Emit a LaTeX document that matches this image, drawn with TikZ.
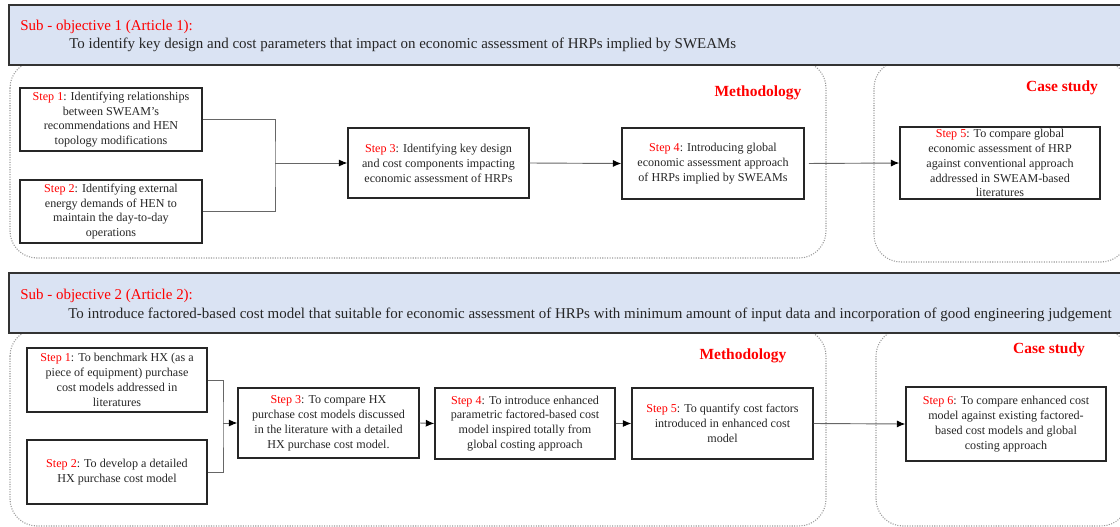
\documentclass[tikz,border=0pt]{standalone}
\usepackage{fontspec}
\setmainfont{Liberation Serif}
\usepackage{xcolor}
\usetikzlibrary{arrows.meta}
\definecolor{headblue}{HTML}{DAE3F3}

\begin{document}
\begin{tikzpicture}[x=0.025cm,y=-0.025cm,
  stepbox/.style={draw=black!85,line width=1pt,align=center,inner sep=1pt,
    font=\fontsize{8.6}{10.6}\selectfont,text=black!85},
  panel/.style={draw=gray!80,densely dotted,line width=.75pt,rounded corners=.675cm},
  headbar/.style={draw=black!80,line width=1pt,fill=headblue},
  headtext/.style={anchor=west,inner sep=0,font=\fontsize{10.65}{12}\selectfont},
  title/.style={font=\fontsize{11}{13}\selectfont\bfseries,text=red},
  link/.style={draw=black!60,line width=.65pt},
  arrow/.style={link,-{Latex[length=6pt,width=5pt,black]}}]
\def\stp#1{\textcolor{red}{Step #1}}
\useasboundingbox (0,0) rectangle (1120,527);
% ---- panels (under the header bars)
\draw[panel] (10,61) rectangle (826,258);
\draw[panel] (874,61) rectangle (1128,262);
\draw[panel] (10,329) rectangle (826,526);
\draw[panel] (876,329) rectangle (1128,526);
% ---- header bars
\filldraw[headbar] (9,5) rectangle (1128,65);
\filldraw[headbar] (9,273) rectangle (1128,333);
\node[headtext,text=red] (sub1) at (20,27) {Sub - objective 1 (Article 1):};
\node[headtext,text=black!85] (aim1) at (69,45)
  {To identify key design and cost parameters that impact on economic assessment of HRPs implied by SWEAMs};
\node[headtext,text=red] (sub2) at (20,296) {Sub - objective 2 (Article 2):};
\node[headtext,text=black!85] (aim2) at (68,315)
  {To introduce factored-based cost model that suitable for economic assessment of HRPs with minimum amount of input data and incorporation of good engineering judgement};
% ---- panel titles
\node[title] (meth1) at (758,93) {Methodology};
\node[title] (case1) at (1062,88) {Case study};
\node[title] (meth2) at (743,356) {Methodology};
\node[title] (case2) at (1049,350) {Case study};
% ---- article 1 steps
\node[stepbox,minimum width=4.55cm,minimum height=1.575cm] (s1) at (111,119.5)
  {\stp{1}: Identifying relationships\\between SWEAM's\\recommendations and HEN\\topology modifications};
\node[stepbox,minimum width=4.55cm,minimum height=1.575cm] (s2) at (111,211.5)
  {\stp{2}: Identifying external\\energy demands of HEN to\\maintain the day-to-day\\operations};
\node[stepbox,minimum width=4.525cm,minimum height=1.75cm] (s3) at (438.5,163)
  {\stp{3}: Identifying key design\\and cost components impacting\\economic assessment of HRPs};
\node[stepbox,minimum width=4.55cm,minimum height=1.775cm] (s4) at (713,163.5)
  {\stp{4}: Introducing global\\economic assessment approach\\of HRPs implied by SWEAMs};
\node[stepbox,minimum width=5cm,minimum height=1.8cm] (s5) at (1000,163)
  {\stp{5}: To compare global\\economic assessment of HRP\\against conventional approach\\addressed in SWEAM-based\\literatures};
\coordinate (j1) at (275,163);
\draw[link] (s1.east) -| (j1) |- (s2.east);
\draw[arrow] (j1) -- (s3.west);
\draw[arrow] (s3.east) -- (s4.west);
\draw[arrow,shorten <=3pt] (s4.east) -- (s5.west);
% ---- article 2 steps
\node[stepbox,minimum width=4.5cm,minimum height=1.6cm] (b1) at (117,380)
  {\stp{1}: To benchmark HX (as a\\piece of equipment) purchase\\cost models addressed in\\literatures};
\node[stepbox,minimum width=4.5cm,minimum height=1.6cm] (b2) at (117,472)
  {\stp{2}: To develop a detailed\\HX purchase cost model};
\node[stepbox,minimum width=4.525cm,minimum height=1.75cm] (b3) at (328.5,423)
  {\stp{3}: To compare HX\\purchase cost models discussed\\in the literature with a detailed\\HX purchase cost model.};
\node[stepbox,minimum width=4.5cm,minimum height=1.775cm] (b4) at (525,423.5)
  {\stp{4}: To introduce enhanced\\parametric factored-based cost\\model inspired totally from\\global costing approach};
\node[stepbox,minimum width=4.525cm,minimum height=1.775cm] (b5) at (722.5,423.5)
  {\stp{5}: To quantify cost factors\\introduced in enhanced cost\\model};
\node[stepbox,minimum width=5cm,minimum height=1.85cm] (b6) at (1006,424)
  {\stp{6}: To compare enhanced cost\\model against existing factored-\\based cost models and global\\costing approach};
\coordinate (j2) at (223,423);
\draw[link] (b1.east) -| (j2) |- (b2.east);
\draw[arrow] (j2) -- (b3.west);
\draw[arrow] (b3.east) -- (b4.west);
\draw[arrow] (b4.east) -- (b5.west);
\draw[arrow] (b5.east) -- (b6.west);
\end{tikzpicture}
\end{document}
